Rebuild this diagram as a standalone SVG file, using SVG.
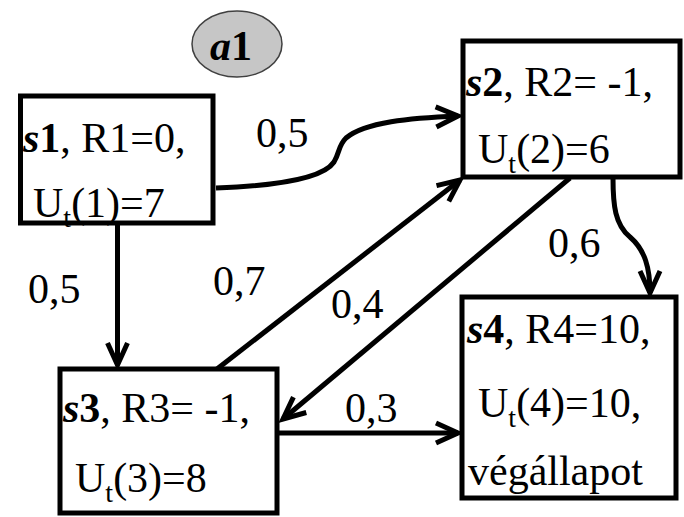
<svg xmlns="http://www.w3.org/2000/svg" width="684" height="517" viewBox="0 0 684 517">
<style>
.box{fill:#fff;stroke:#000;stroke-width:5}
.t{font-family:'Liberation Serif','Times New Roman',Times,serif;font-size:42px;fill:#000}
.b{font-weight:bold;font-style:italic}
.bn{font-weight:bold}
.sub{font-size:28px}
.c{fill:none;stroke:#000;stroke-width:5;marker-end:url(#arr)}
</style>
<defs>
<marker id="arr" markerUnits="userSpaceOnUse" orient="auto" overflow="visible" markerWidth="30" markerHeight="30" refX="0" refY="0">
<path d="M-22,-10 L0,0 L-22,10" fill="none" stroke="#000" stroke-width="5" stroke-linejoin="miter"/>
</marker>
</defs>
<g id="a1">
<ellipse cx="237" cy="44" rx="45" ry="33" fill="#c6c6c6" stroke="#404040" stroke-width="1.5"/>
<text class="t" x="231" y="60" text-anchor="middle"><tspan class="b">a</tspan><tspan class="bn">1</tspan></text>
</g>
<g id="connectors">
<path class="c" d="M216,188 C270,186 322,180 334,162 C340,152 338,146 346,138 C365,122 410,118 458,116"/>
<path class="c" d="M117.5,225 L117.5,365"/>
<path class="c" d="M217,369 L460,180"/>
<path class="c" d="M570,178 L283,419"/>
<path class="c" d="M613,178 C613,205 615,225 630,237 C645,250 650,268 650,293"/>
<path class="c" d="M279,433 L458,433"/>
</g>
<g id="s1">
<rect class="box" x="20.5" y="96" width="192.5" height="127"/>
<text class="t" x="23" y="152"><tspan class="b">s</tspan><tspan class="bn">1</tspan>, R1=0,</text>
<text class="t" x="33" y="217">U<tspan class="sub" dy="10">t</tspan><tspan dy="-10">(1)=7</tspan></text>
</g>
<g id="s2">
<rect class="box" x="463" y="41" width="217" height="136"/>
<text class="t" x="466" y="96"><tspan class="b">s</tspan><tspan class="bn">2</tspan>, R2= -1,</text>
<text class="t" x="478" y="163">U<tspan class="sub" dy="10">t</tspan><tspan dy="-10">(2)=6</tspan></text>
</g>
<g id="s3">
<rect class="box" x="60" y="369" width="217" height="144"/>
<text class="t" x="63" y="422"><tspan class="b">s</tspan><tspan class="bn">3</tspan>, R3= -1,</text>
<text class="t" x="75" y="492">U<tspan class="sub" dy="10">t</tspan><tspan dy="-10">(3)=8</tspan></text>
</g>
<g id="s4">
<rect class="box" x="462" y="297" width="214" height="201"/>
<text class="t" x="467" y="343"><tspan class="b">s</tspan><tspan class="bn">4</tspan>, R4=10,</text>
<text class="t" x="478" y="417">U<tspan class="sub" dy="10">t</tspan><tspan dy="-10">(4)=10,</tspan></text>
<text class="t" x="468" y="485">végállapot</text>
</g>
<g id="labels">
<text class="t" x="256" y="147">0,5</text>
<text class="t" x="28" y="303">0,5</text>
<text class="t" x="213" y="295">0,7</text>
<text class="t" x="331" y="318">0,4</text>
<text class="t" x="548" y="257">0,6</text>
<text class="t" x="345" y="422">0,3</text>
</g>
</svg>
